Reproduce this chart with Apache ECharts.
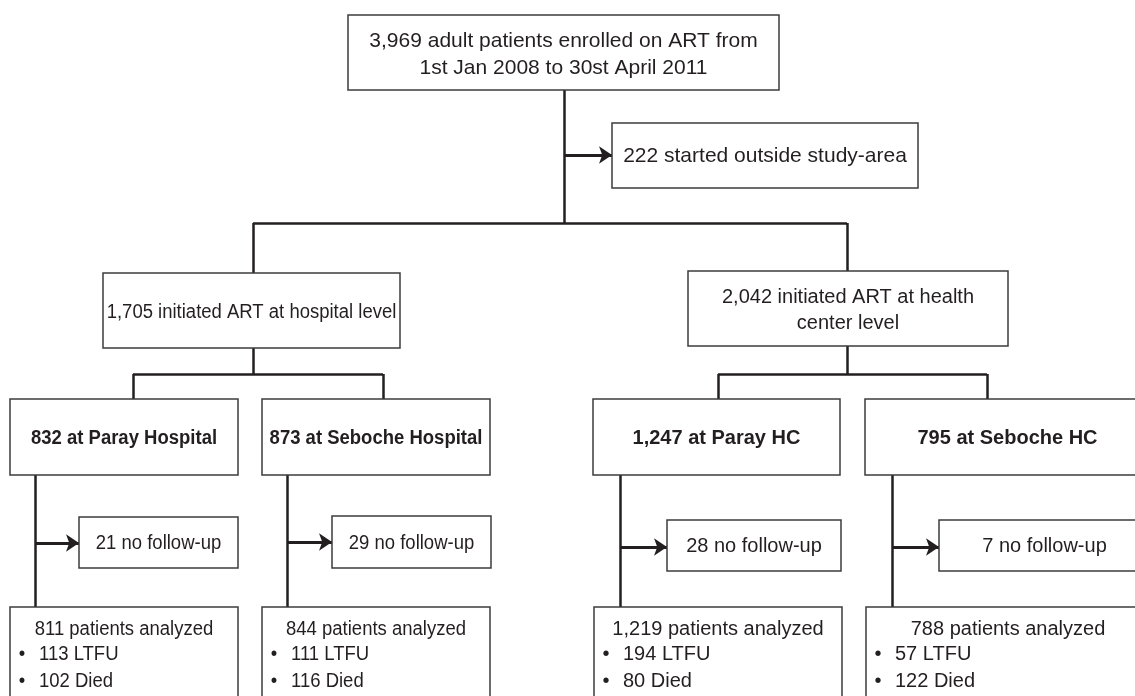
<!DOCTYPE html>
<html><head><meta charset="utf-8">
<script src="https://cdn.jsdelivr.net/npm/echarts@6/dist/echarts.min.js"></script>
<style>html,body{margin:0;padding:0;background:#fff}#c{width:1135px;height:696px}</style>
</head><body><div id="c"></div>
<script>
// ---- data ----
const enrolled = 3969;
const enrollPeriod = ['1st Jan 2008', '30st April 2011'];
const startedOutside = 222;
const levelCounts = [1705, 2042];
const levelLabels = ['initiated ART at hospital level', 'initiated ART at health\ncenter level'];
const siteNames = ['Paray Hospital', 'Seboche Hospital', 'Paray HC', 'Seboche HC'];
const siteCounts = [832, 873, 1247, 795];
const noFollowUp = [21, 29, 28, 7];
const analyzed = [811, 844, 1219, 788];
const ltfu = [113, 111, 194, 57];
const died = [102, 116, 80, 122];

// ---- layout (diagram coordinates on hidden axes) ----
const L = {
  top: [348, 15, 779, 90],
  outside: [612, 123, 918, 188],
  level: [[103, 273, 400, 348], [688, 271, 1008, 346]],
  site: [[10, 399, 238, 475], [262, 399, 490, 475], [593, 399, 840, 475], [865, 399, 1150, 475]],
  nofu: [[79, 517, 238, 568], [332, 516, 491, 568], [667, 520, 841, 571], [939, 520, 1150, 571]],
  result: [[10, 607, 238, 720], [262, 607, 490, 720], [594, 607, 842, 720], [866, 607, 1150, 720]],
  trunkX: 564, splitY: 223, levelX: [253, 847], siteSplitY: 374,
  siteInX: [133, 383, 718, 987], siteOutX: [35, 287, 620, 892],
  arrowY: [543, 542, 547, 547], topArrowY: 155
};
// left half of the original figure is horizontally squeezed
const squeeze = [0.925, 1];

const fmt = n => n.toLocaleString('en-US');
const FONT = '"Liberation Sans", Arial, Helvetica, sans-serif';
const INK = '#231f20';

const boxes = [];
boxes.push({ b: L.top, kind: 'center', size: 21, sx: 1, lh: 27, dy: 2, text: fmt(enrolled) + ' adult patients enrolled on ART from\n' + enrollPeriod[0] + ' to ' + enrollPeriod[1] });
boxes.push({ b: L.outside, kind: 'center', size: 21, sx: 1, dy: 1, text: startedOutside + ' started outside study-area' });
levelCounts.forEach((c, i) => boxes.push({ b: L.level[i], kind: 'center', size: 20, sx: squeeze[i], lh: 26, dy: 2, text: fmt(c) + ' ' + levelLabels[i] }));
siteCounts.forEach((c, i) => boxes.push({ b: L.site[i], kind: 'center', size: 20, sx: squeeze[i >> 1], bold: true, dy: 1, text: fmt(c) + ' at ' + siteNames[i] }));
noFollowUp.forEach((c, i) => boxes.push({ b: L.nofu[i], kind: 'center', size: 20, sx: squeeze[i >> 1], dy: 1, text: c + ' no follow-up' }));
analyzed.forEach((c, i) => boxes.push({ b: L.result[i], kind: 'result', size: 20, sx: squeeze[i >> 1], dy: 1, lines: [fmt(c) + ' patients analyzed', ltfu[i] + ' LTFU', died[i] + ' Died'] }));

// connectors
const seg = [];
seg.push([[L.trunkX, L.top[3]], [L.trunkX, L.splitY]]);
seg.push([[L.levelX[0], L.splitY], [L.levelX[1], L.splitY]]);
L.levelX.forEach((x, i) => {
  seg.push([[x, L.splitY], [x, L.level[i][1]]]);
  seg.push([[x, L.level[i][3]], [x, L.siteSplitY]]);
  seg.push([[L.siteInX[2 * i], L.siteSplitY], [L.siteInX[2 * i + 1], L.siteSplitY]]);
});
L.siteInX.forEach((x, i) => seg.push([[x, L.siteSplitY], [x, L.site[i][1]]]));
L.siteOutX.forEach((x, i) => seg.push([[x, L.site[i][3]], [x, L.result[i][1]]]));
const arrows = [];
arrows.push([[L.trunkX, L.topArrowY], [L.outside[0], L.topArrowY]]);
L.siteOutX.forEach((x, i) => arrows.push([[x, L.arrowY[i]], [L.nofu[i][0], L.arrowY[i]]]));

function txt(x, y, s, font, align, sx, lh) {
  return { type: 'text', x: x, y: y, scaleX: sx,
    style: { text: s, font: font, fill: INK, align: align, verticalAlign: 'middle', lineHeight: lh || 26 } };
}

function renderBox(params, api) {
  const it = boxes[params.dataIndex];
  const p1 = api.coord([api.value(0), api.value(1)]);
  const p2 = api.coord([api.value(2), api.value(3)]);
  const ch = [{
    type: 'rect',
    shape: { x: p1[0], y: p1[1], width: p2[0] - p1[0], height: p2[1] - p1[1] },
    style: { fill: '#fff', stroke: '#3c3c3c', lineWidth: 1.5 }
  }];
  const font = (it.bold ? 'bold ' : '') + it.size + 'px ' + FONT;
  const dy = it.dy || 0;
  if (it.kind === 'center') {
    ch.push(txt((p1[0] + p2[0]) / 2, (p1[1] + p2[1]) / 2 + dy, it.text, font, 'center', it.sx, it.lh));
  } else {
    const top = p1[1] + dy;
    ch.push(txt((p1[0] + p2[0]) / 2, top + 21, it.lines[0], font, 'center', it.sx));
    [1, 2].forEach((k, j) => {
      const y = top + 46 + j * 27;
      ch.push(txt(p1[0] + 12, y, '•', font, 'center', it.sx));
      ch.push(txt(p1[0] + 29, y, it.lines[k], font, 'left', it.sx));
    });
  }
  return { type: 'group', children: ch };
}

const chart = echarts.init(document.getElementById('c'));
chart.setOption({
  backgroundColor: '#fff',
  animation: false,
  grid: { left: 0, right: 0, top: 0, bottom: 0 },
  xAxis: { type: 'value', min: 0, max: 1135, show: false },
  yAxis: { type: 'value', min: 0, max: 696, inverse: true, show: false },
  series: [
    {
      type: 'lines', coordinateSystem: 'cartesian2d', z: 1,
      lineStyle: { color: INK, width: 2.5, opacity: 1 },
      data: seg.map(c => ({ coords: c }))
    },
    {
      type: 'lines', coordinateSystem: 'cartesian2d', z: 1,
      symbol: ['none', 'arrow'], symbolSize: [10, 13],
      lineStyle: { color: INK, width: 3, opacity: 1 },
      itemStyle: { color: INK },
      data: arrows.map(c => ({ coords: c }))
    },
    {
      type: 'custom', coordinateSystem: 'cartesian2d', z: 2, clip: false,
      renderItem: renderBox,
      data: boxes.map(o => o.b)
    }
  ]
});
</script>
</body></html>
